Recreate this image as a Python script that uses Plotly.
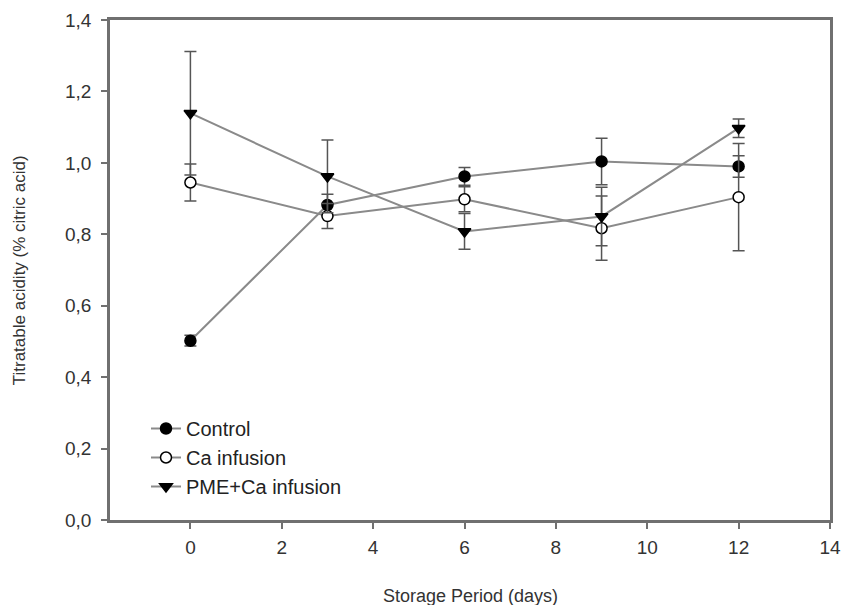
import plotly.graph_objects as go

days = [0, 3, 6, 9, 12]
control = [0.502, 0.882, 0.962, 1.004, 0.990]
control_err = [0.015, 0.030, 0.025, 0.065, 0.030]
ca = [0.945, 0.851, 0.898, 0.817, 0.904]
ca_err = [0.052, 0.035, 0.035, 0.090, 0.150]
pme = [1.139, 0.962, 0.808, 0.850, 1.097]
pme_err = [0.173, 0.102, 0.050, 0.082, 0.026]

y_ticks = [0.0, 0.2, 0.4, 0.6, 0.8, 1.0, 1.2, 1.4]
y_ticktext = ["0,0", "0,2", "0,4", "0,6", "0,8", "1,0", "1,2", "1,4"]
x_ticks = [0, 2, 4, 6, 8, 10, 12, 14]

x_title = "Storage Period (days)"
y_title = "Titratable acidity (% citric acid)"

LINE = "#8a8a8a"
ERR = "#555555"
AX = "#707070"
FONT = "Liberation Sans, Arial, sans-serif"

fig = go.Figure()

def add(name, y, err, symbol, fill):
    fig.add_trace(go.Scatter(
        x=days, y=y, name=name, mode="lines+markers",
        line=dict(color=LINE, width=2),
        marker=dict(symbol=symbol, size=11, color=fill,
                    line=dict(color="black", width=1.5)),
        error_y=dict(type="data", array=err, visible=True,
                     color=ERR, thickness=1.5, width=6),
    ))

add("Control", control, control_err, "circle", "black")
add("Ca infusion", ca, ca_err, "circle", "white")
add("PME+Ca infusion", pme, pme_err, "triangle-down", "black")

axis_common = dict(
    showline=True, linecolor=AX, linewidth=2.5, mirror=True,
    ticks="outside", ticklen=6, tickwidth=1.5, tickcolor=AX,
    showgrid=False, zeroline=False, automargin=False,
    tickfont=dict(family=FONT, size=19, color="#333333"),
)

# page body has an 8px default margin; figure sized so the page does not overflow
fig.update_layout(
    width=842, height=597,
    margin=dict(l=102, r=20, t=12, b=85),
    paper_bgcolor="white", plot_bgcolor="white",
    font=dict(family=FONT, color="#333333"),
    xaxis=dict(range=[-1.76, 14], tickvals=x_ticks, ticklabelstandoff=2,
               ticklabeloverflow="allow", **axis_common),
    yaxis=dict(range=[0, 1.4], tickvals=y_ticks, ticktext=y_ticktext,
               ticklabelstandoff=6, **axis_common),
    legend=dict(x=0.05, y=0.222, xanchor="left", yanchor="top",
                bgcolor="rgba(0,0,0,0)",
                font=dict(family=FONT, size=20, color="#222222"),
                tracegroupgap=0),
    showlegend=True,
    annotations=[
        dict(text=x_title, xref="paper", yref="paper", x=0.5, y=-0.152,
             xanchor="center", yanchor="middle", showarrow=False,
             font=dict(family=FONT, size=18, color="#333333")),
        dict(text=y_title, xref="paper", yref="paper", x=-0.126, y=0.5,
             xanchor="center", yanchor="middle", showarrow=False, textangle=-90,
             font=dict(family=FONT, size=17, color="#333333")),
    ],
)

fig.write_html("out.html")
